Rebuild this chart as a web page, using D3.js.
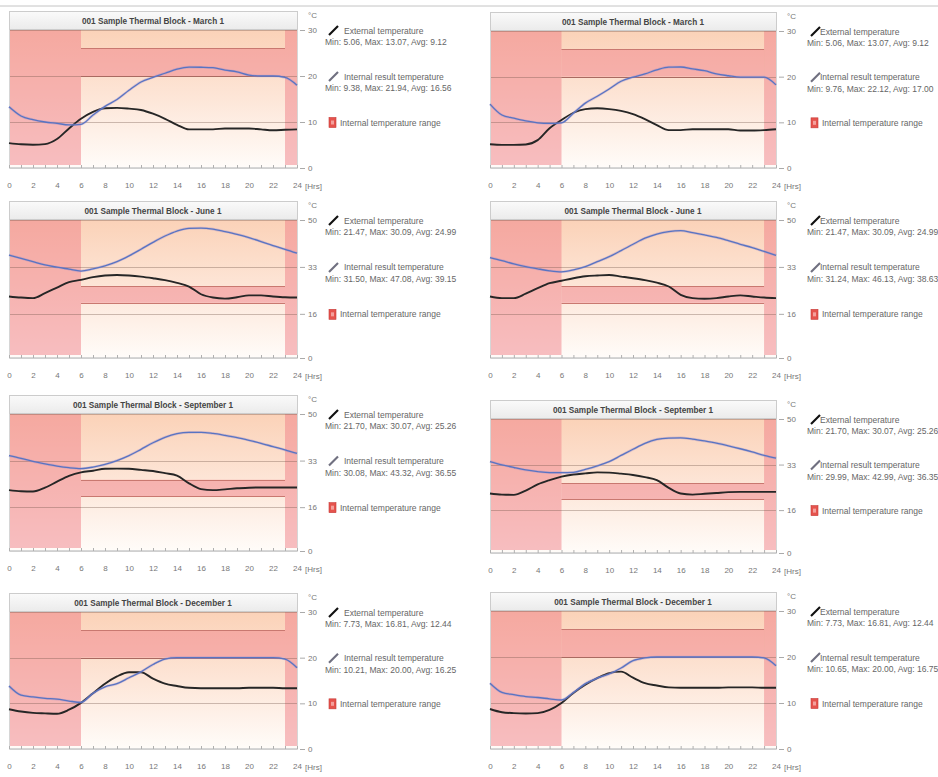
<!DOCTYPE html>
<html><head><meta charset="utf-8">
<script src="https://cdn.jsdelivr.net/npm/d3@7"></script>
<style>
body{margin:0;background:#fff;}
svg{display:block;font-family:"Liberation Sans",Arial,sans-serif;}
</style>
</head><body>
<svg id="c" width="938" height="777"></svg>
<script>
// ---------- data ----------
const hours = d3.range(0, 25);
const xTickLabels = [0, 2, 4, 6, 8, 10, 12, 14, 16, 18, 20, 22, 24];
const ticks30 = [0, 10, 20, 30];
const ticks50 = [0, 16, 33, 50];
const titles = [
  "001 Sample Thermal Block - March 1",
  "001 Sample Thermal Block - June 1",
  "001 Sample Thermal Block - September 1",
  "001 Sample Thermal Block - December 1"
];
const legendNames = ["External temperature", "Internal result temperature", "Internal temperature range"];
// occupied hours & comfort band
const occupiedHours = [6, 23];
const comfortBand = [20, 26];

const extMarL = [5.4,5.15,5.06,5.2,6.3,8.6,10.7,12.2,13.0,13.07,12.9,12.6,11.8,10.7,9.4,8.4,8.4,8.4,8.6,8.6,8.6,8.4,8.2,8.3,8.4];
const intMarL = [13.3,11.3,10.5,10.0,9.7,9.38,9.5,11.5,13.4,14.9,16.9,18.7,19.7,20.6,21.5,21.94,21.9,21.8,21.3,20.9,20.2,20.0,20.0,19.7,18.0];
const extMarR = [5.2,5.06,5.06,5.15,6.1,8.7,10.5,12.1,12.9,13.07,12.9,12.5,11.8,10.7,9.4,8.3,8.3,8.5,8.5,8.5,8.5,8.2,8.2,8.3,8.5];
const intMarR = [14.0,11.6,10.9,10.3,9.9,9.76,9.9,12.0,14.2,15.7,17.3,19.0,19.9,20.6,21.5,22.1,22.12,21.7,21.3,20.6,20.2,19.9,19.9,19.9,18.2];
const extJunL = [22.3,21.9,21.7,23.5,25.5,27.5,28.3,29.3,29.9,30.09,29.9,29.5,28.9,28.2,27.2,25.9,23.1,21.9,21.5,22.0,22.7,22.7,22.3,22.0,21.9];
const intJunL = [37.3,36.1,34.9,33.7,32.9,32.2,31.5,32.3,33.4,34.9,37.0,39.4,41.9,44.2,46.0,47.0,47.08,46.7,45.8,44.8,43.6,42.2,40.7,39.4,38.0];
const extJunR = [22.3,21.7,21.7,23.3,25.3,27.1,28.0,28.9,29.6,29.9,30.09,29.5,28.9,28.2,27.3,25.9,22.9,21.7,21.47,21.7,22.3,22.7,22.3,21.9,21.7];
const intJunR = [36.4,35.3,34.1,33.1,32.3,31.6,31.24,31.9,33.1,34.9,36.7,38.9,41.2,43.4,44.9,45.8,46.13,45.4,44.6,43.7,42.5,41.2,40.0,38.6,37.2];
const extSepL = [22.2,21.8,21.7,23.1,25.3,27.4,28.7,29.3,30.0,30.07,30.0,29.6,29.2,28.4,27.5,24.7,22.6,22.2,22.5,22.9,23.1,23.2,23.2,23.2,23.2];
const intSepL = [34.8,33.8,32.7,31.8,31.0,30.4,30.08,30.6,31.6,33.0,34.8,37.1,39.5,41.5,42.8,43.3,43.32,42.9,42.2,41.4,40.4,39.3,38.1,36.9,35.6];
const extSepR = [22.2,21.8,21.7,23.3,25.6,27.2,28.5,29.3,29.7,30.07,30.0,29.6,29.1,28.3,27.2,24.3,22.2,21.8,22.1,22.4,22.7,22.8,22.8,22.8,22.8];
const intSepR = [34.1,32.9,31.9,31.0,30.4,30.0,29.99,30.1,31.2,32.5,34.1,36.4,38.7,40.9,42.4,42.9,42.99,42.5,41.8,41.0,40.0,38.9,37.7,36.4,35.4];
const extDecL = [8.7,8.2,7.9,7.8,7.73,8.6,10.1,12.2,14.3,15.9,16.8,16.81,15.4,14.3,13.8,13.4,13.3,13.3,13.3,13.3,13.4,13.4,13.4,13.3,13.3];
const intDecL = [13.8,11.8,11.4,11.1,10.9,10.5,10.21,12.2,13.6,14.3,15.6,16.9,18.5,19.7,20.0,20.0,20.0,20.0,20.0,20.0,20.0,20.0,20.0,19.7,17.8];
const extDecR = [8.7,8.0,7.8,7.73,7.8,8.5,10.0,12.2,14.0,15.4,16.5,16.81,15.5,14.3,13.8,13.4,13.3,13.3,13.3,13.3,13.4,13.4,13.4,13.3,13.3];
const intDecR = [14.3,12.3,11.8,11.4,11.2,10.9,10.65,12.3,14.2,15.4,16.3,17.6,19.2,19.8,20.0,20.0,20.0,20.0,20.0,20.0,20.0,20.0,20.0,19.8,18.1];

const extStats = ["Min: 5.06, Max: 13.07, Avg: 9.12","Min: 21.47, Max: 30.09, Avg: 24.99","Min: 21.70, Max: 30.07, Avg: 25.26","Min: 7.73, Max: 16.81, Avg: 12.44"];
const intStatsL = ["Min: 9.38, Max: 21.94, Avg: 16.56","Min: 31.50, Max: 47.08, Avg: 39.15","Min: 30.08, Max: 43.32, Avg: 36.55","Min: 10.21, Max: 20.00, Avg: 16.25"];
const intStatsR = ["Min: 9.76, Max: 22.12, Avg: 17.00","Min: 31.24, Max: 46.13, Avg: 38.63","Min: 29.99, Max: 42.99, Avg: 36.35","Min: 10.65, Max: 20.00, Avg: 16.75"];

// ---------- layout ----------
const cols = [
  {x0: 9, x1: 297, icon: 32, text: 47, stat: 28},
  {x0: 490, x1: 776, icon: 35, text: 44, stat: 31}
];
const rowsY = [
  [[30,168],[31,168]],
  [[220,358],[220,358]],
  [[414,551],[419,553]],
  [[612,749],[611,749]]
];
const series = [
  [[extMarL,intMarL],[extMarR,intMarR]],
  [[extJunL,intJunL],[extJunR,intJunR]],
  [[extSepL,intSepL],[extSepR,intSepR]],
  [[extDecL,intDecL],[extDecR,intDecR]]
];
const rowTicks = [ticks30, ticks50, ticks50, ticks30];

const svg = d3.select("#c");
const defs = svg.append("defs");
const bg = defs.append("linearGradient").attr("id","bg").attr("x1",0).attr("y1",0).attr("x2",0).attr("y2",1);
bg.append("stop").attr("offset","0%").attr("stop-color","#fbd2b8");
bg.append("stop").attr("offset","50%").attr("stop-color","#fde6d8");
bg.append("stop").attr("offset","100%").attr("stop-color","#fffcf9");
const tg = defs.append("linearGradient").attr("id","tb").attr("x1",0).attr("y1",0).attr("x2",0).attr("y2",1);
tg.append("stop").attr("offset","0%").attr("stop-color","#fafafa");
tg.append("stop").attr("offset","100%").attr("stop-color","#ebebeb");

const rangeFill = "rgba(240,128,136,0.5)";

svg.append("line").attr("x1",0).attr("x2",938).attr("y1",6).attr("y2",6).attr("stroke","#c4c4c4").attr("stroke-width",1);

rowsY.forEach((row, r) => {
  row.forEach(([top, bot], ci) => {
    const c = cols[ci];
    const ticks = rowTicks[r];
    const maxV = ticks[ticks.length-1];
    const [ext, intl] = series[r][ci];
    const x = d3.scaleLinear().domain([0,24]).range([c.x0, c.x1]);
    const y = d3.scaleLinear().domain([0,maxV]).range([bot, top]);
    const g = svg.append("g");

    // background
    g.append("rect").attr("x",c.x0).attr("y",top).attr("width",c.x1-c.x0).attr("height",bot-top).attr("fill","url(#bg)");
    // internal temperature range: unoccupied hours full, occupied hours comfort band
    [[0,occupiedHours[0]],[occupiedHours[1],24]].forEach(([a,b]) => {
      g.append("rect").attr("x",x(a)).attr("width",x(b)-x(a)).attr("y",y(maxV)).attr("height",y(0)-y(maxV)-3).attr("fill",rangeFill);
    });
    g.append("rect").attr("x",x(occupiedHours[0])).attr("width",x(occupiedHours[1])-x(occupiedHours[0]))
      .attr("y",y(comfortBand[1])).attr("height",y(comfortBand[0])-y(comfortBand[1])).attr("fill",rangeFill);
    comfortBand.forEach(v => {
      g.append("line").attr("x1",x(occupiedHours[0])).attr("x2",x(occupiedHours[1]))
        .attr("y1",Math.round(y(v))+0.5).attr("y2",Math.round(y(v))+0.5).attr("stroke","#c97870").attr("stroke-width",1);
    });
    // gridlines
    ticks.filter(t => t>0).forEach(t => {
      g.append("line").attr("x1",c.x0).attr("x2",c.x1).attr("y1",Math.round(y(t))+0.5).attr("y2",Math.round(y(t))+0.5)
        .attr("stroke","rgba(110,80,70,0.35)").attr("stroke-width",1);
    });
    // frame
    g.append("rect").attr("x",c.x0+0.5).attr("y",top-18.5).attr("width",c.x1-c.x0).attr("height",bot-top+18)
      .attr("fill","none").attr("stroke","#d6d6d6");
    // title bar
    g.append("rect").attr("x",c.x0+0.5).attr("y",top-18.5).attr("width",c.x1-c.x0).attr("height",18)
      .attr("fill","url(#tb)").attr("stroke","#cccccc");
    g.append("text").attr("x",(c.x0+c.x1)/2).attr("y",top-6.5).attr("text-anchor","middle")
      .attr("font-size","8.2px").attr("font-weight","bold").attr("fill","#444").text(titles[r]);

    // lines
    const line = d3.line().x((d,i)=>x(hours[i])).y(d=>y(d)).curve(d3.curveMonotoneX);
    g.append("path").datum(ext).attr("d",line).attr("fill","none").attr("stroke","#262626").attr("stroke-width",1.9);
    g.append("path").datum(intl).attr("d",line).attr("fill","none").attr("stroke","rgba(160,140,200,0.4)").attr("stroke-width",2.6);
    g.append("path").datum(intl).attr("d",line).attr("fill","none").attr("stroke","#5874c2").attr("stroke-width",1.3);

    // y axis (right)
    const ya = g.append("g").attr("transform",`translate(${c.x1+3},0)`)
      .call(d3.axisRight(y).tickValues(ticks).tickSize(5).tickPadding(3).tickFormat(d3.format("d")));
    ya.select(".domain").remove();
    ya.selectAll("line").attr("stroke","#aaa");
    ya.selectAll("text").attr("font-size","8px").attr("fill","#777").attr("font-family","Liberation Sans, Arial, sans-serif");
    g.append("text").attr("x",c.x1+11).attr("y",top-12).attr("font-size","8px").attr("fill","#777").text("°C");

    // x axis
    const xa = g.append("g").attr("transform",`translate(0,${bot})`)
      .call(d3.axisBottom(x).tickValues(hours).tickSize(-3).tickPadding(14)
        .tickFormat(d => xTickLabels.includes(d) ? d : ""));
    xa.select(".domain").attr("stroke","#d0d0d0");
    xa.selectAll("line").attr("stroke","#b0b0b0");
    xa.selectAll("text").attr("font-size","8px").attr("fill","#777").attr("font-family","Liberation Sans, Arial, sans-serif");
    g.append("text").attr("x",c.x1+8).attr("y",bot+21).attr("font-size","8px").attr("fill","#777").text("[Hrs]");

    // legend aligned with top three ticks
    const ly = [y(ticks[3]), y(ticks[2]), y(ticks[1])];
    const ix = c.x1 + c.icon, tx = c.x1 + c.text, sx = c.x1 + c.stat;
    g.append("line").attr("x1",ix).attr("y1",ly[0]+5).attr("x2",ix+9).attr("y2",ly[0]-4).attr("stroke","#111").attr("stroke-width",2.2);
    g.append("text").attr("x",tx).attr("y",ly[0]+3.5).attr("font-size","8.5px").attr("fill","#666").text(legendNames[0]);
    g.append("text").attr("x",sx).attr("y",ly[0]+15).attr("font-size","8.5px").attr("fill","#666").text(extStats[r]);
    g.append("line").attr("x1",ix).attr("y1",ly[1]+5).attr("x2",ix+9).attr("y2",ly[1]-4).attr("stroke","#707080").attr("stroke-width",2.2);
    g.append("text").attr("x",tx).attr("y",ly[1]+3.5).attr("font-size","8.5px").attr("fill","#666").text(legendNames[1]);
    g.append("text").attr("x",sx).attr("y",ly[1]+15).attr("font-size","8.5px").attr("fill","#666").text(ci===0 ? intStatsL[r] : intStatsR[r]);
    g.append("rect").attr("x",ix).attr("y",ly[2]-4.5).attr("width",7).attr("height",10).attr("fill","#e5534d").attr("stroke","#c63a36").attr("stroke-width",0.6);
    g.append("rect").attr("x",ix+2).attr("y",ly[2]-1.5).attr("width",3).attr("height",4).attr("fill","#f4a09c");
    g.append("text").attr("x",ix+11).attr("y",ly[2]+3.5).attr("font-size","8.5px").attr("fill","#666").text(legendNames[2]);
  });
});
</script>
</body></html>
